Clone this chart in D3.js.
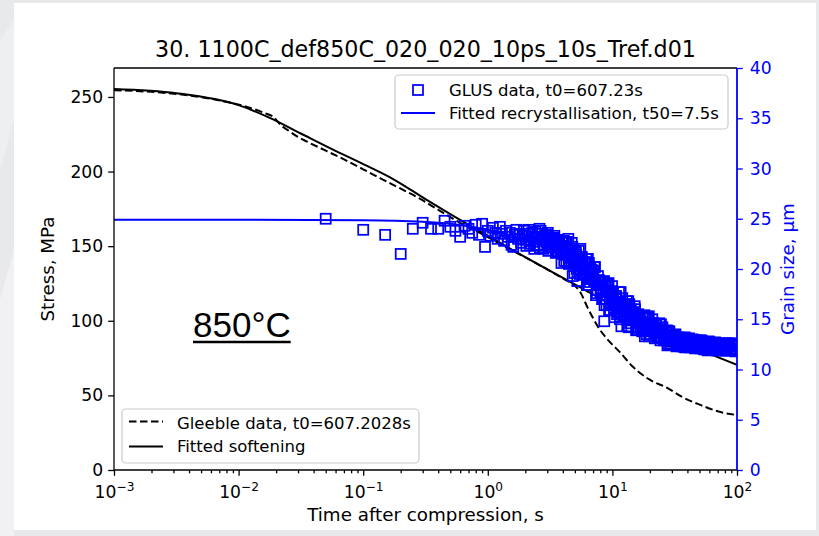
<!DOCTYPE html>
<html>
<head>
<meta charset="utf-8">
<script src="https://cdn.jsdelivr.net/npm/d3@7"></script>
<style>
  html, body { margin: 0; padding: 0; background: #e8e9eb; }
  svg { display: block; }
</style>
</head>
<body>
<svg id="chart" width="819" height="536"></svg>
<script>
// ---- chart text ----
const chartTitle = "30. 1100C_def850C_020_020_10ps_10s_Tref.d01";
const xLabel = "Time after compression, s";
const yLeftLabel = "Stress, MPa";
const yRightLabel = "Grain size, µm";
const tempLabel = "850°C";

// ---- ticks ----
const stressTicks = [0, 50, 100, 150, 200, 250];
const grainTicks = [0, 5, 10, 15, 20, 25, 30, 35, 40];
const timeTicks = [1e-3, 1e-2, 1e-1, 1, 10, 100];
const timeTickExponents = ["\u22123", "\u22122", "\u22121", "0", "1", "2"];

// ---- Gleeble stress relaxation (measured) ----
const gleebleTime = [0.001, 0.002, 0.004, 0.0079, 0.0126, 0.0158, 0.0191, 0.0219, 0.0251, 0.0302,
  0.0355, 0.0501, 0.0708, 0.1, 0.141, 0.2, 0.282, 0.398, 0.562, 0.794, 1.0, 1.585, 2.512, 3.981,
  4.786, 5.495, 6.31, 7.943, 10, 11.48, 14.45, 19.95, 27.54, 37.15, 50.12, 72.44, 100];
const gleebleStress = [254.5, 253.4, 251, 246.8, 242.5, 239.5, 236.5, 231, 227.5, 223,
  220, 214, 208, 201.5, 195, 188.5, 182, 174.5, 167, 160.5, 156, 147, 138, 128.5,
  124.5, 119.5, 109, 94, 84, 79, 69.5, 60.5, 55, 48.5, 43.8, 39, 36.8];

// ---- fitted softening curve ----
const softeningTime = [0.001, 0.00316, 0.01, 0.0178, 0.0316, 0.0562, 0.1, 0.178, 0.316, 0.562,
  1, 1.778, 3.162, 5.623, 10, 17.78, 31.62, 56.23, 100];
const softeningStress = [255.3, 252.5, 244.5, 236, 225.5, 215, 205, 194.5, 181.5, 169,
  157, 145, 133.5, 122, 110.5, 99.5, 89, 79, 70.5];

// ---- fitted recrystallisation curve (grain size) ----
const recrystTime = [0.001, 0.01, 0.1, 0.3, 0.5, 1, 2, 3, 4, 5, 6, 7.5, 9, 11, 14, 18, 25, 35, 50, 70, 100];
const recrystSize = [24.9, 24.9, 24.85, 24.7, 24.5, 23.9, 22.9, 22.0, 21.2, 20.4, 19.6, 18.6, 17.6,
  16.5, 15.3, 14.3, 13.4, 12.8, 12.45, 12.3, 12.25];

// ---- GLUS grain size measurements ----
const glusTime = [
  0.05, 0.10, 0.15, 0.20, 0.25, 0.30, 0.35, 0.40, 0.45, 0.50,
  0.55, 0.60, 0.65, 0.70, 0.75, 0.80, 0.85, 0.90, 0.95, 1.00,
  1.05, 1.10, 1.15, 1.20, 1.25, 1.30, 1.35, 1.40, 1.45, 1.50,
  1.55, 1.60, 1.65, 1.70, 1.75, 1.80, 1.85, 1.90, 1.95, 2.00,
  2.08, 2.16, 2.24, 2.32, 2.41, 2.5, 2.6, 2.7, 2.8, 2.9,
  3.0, 3.12, 3.24, 3.36, 3.48, 3.61, 3.75, 3.89, 4.04, 4.19,
  4.35, 4.51, 4.68, 4.86, 5.04, 5.23, 5.43, 5.64, 5.85, 6.07,
  6.3, 6.54, 6.79, 7.05, 7.31, 7.59, 7.88, 8.18, 8.49, 8.81,
  9.14, 9.49, 9.85, 10.2, 10.6, 11.0, 11.4, 11.9, 12.3, 12.8,
  13.3, 13.8, 14.3, 14.8, 15.4, 16.0, 16.6, 17.2, 17.9, 18.5,
  19.2, 20.0, 20.7, 21.5, 22.3, 23.2, 24.1, 25.0, 25.9, 26.9,
  27.9, 29.0, 30.1, 31.2, 32.4, 33.6, 34.9, 36.2, 37.6, 39.0,
  40.5, 42.0, 43.6, 45.2, 46.9, 48.7, 50.6, 52.5, 54.5, 56.5,
  58.7, 60.9, 63.2, 65.6, 68.0, 70.6, 73.3, 76.1, 79.0, 82.0,
  85.1, 88.3, 91.6, 95.1, 98.7, 100,
  3.9, 4.8, 8.6, 11.8,
  2.04, 2.12, 2.2, 2.28, 2.36, 2.45, 2.55, 2.65, 2.75, 2.85,
  2.95, 3.06, 3.18, 3.3, 3.42, 3.54, 3.68, 3.82, 3.96, 4.11,
  4.27, 4.43, 4.59, 4.77, 4.95, 5.13, 5.33, 5.53, 5.74, 5.96,
  6.18, 6.42, 6.66, 6.92, 7.18, 7.45, 7.73, 8.03, 8.33, 8.65,
  8.97, 9.31, 9.67, 10.0, 10.4, 10.8, 11.2, 11.65, 12.1, 12.55,
  13.05, 13.55, 14.05, 14.55, 15.1, 15.7, 16.3, 16.9, 17.55, 18.2,
  18.85, 19.6, 20.35, 21.1, 21.9, 22.75, 23.65, 24.55, 25.45, 26.4,
  27.4, 28.45, 29.55, 30.65, 31.8, 33.0, 34.25, 35.55, 36.9, 38.3,
  39.75, 41.25, 42.8, 44.4, 46.05, 47.8, 49.65, 51.55, 53.5, 55.5,
  57.6, 59.8, 62.05, 64.4, 66.8, 69.3, 71.95, 74.7, 77.55, 80.5,
  83.55, 86.7, 89.95, 93.35, 96.9, 99.4,
  2.52, 2.62, 2.73, 2.83, 2.93, 3.03, 3.15, 3.27, 3.39, 3.51,
  3.64, 3.78, 3.93, 4.08, 4.23, 4.39, 4.55, 4.72, 4.91, 5.09,
  5.28, 5.48, 5.69, 5.9, 6.13, 6.36, 6.6, 6.85, 7.12, 7.38,
  7.66, 7.95, 8.26, 8.57, 8.89, 9.22, 9.58, 9.94, 10.3, 10.7,
  11.1, 11.5, 12.0, 12.4, 12.9, 13.4, 13.9, 14.4, 14.9, 15.5,
  16.15, 16.75, 17.35, 18.05, 18.65, 19.4, 20.2, 20.9, 21.7, 22.5,
  23.4, 24.3, 25.2, 26.1, 27.15, 28.15, 29.25, 30.4, 31.5, 32.7,
  33.9, 35.2, 36.5, 37.95, 39.35, 40.9, 42.4, 44.0, 45.6, 47.35,
  49.15, 51.05, 53.0, 55.0, 57.0, 59.25, 61.45, 63.8, 66.2, 68.65,
  71.25, 74.0, 76.8, 79.75, 82.75, 85.9, 89.1, 92.45, 96.0, 99.6,
  4.15, 4.31, 4.47, 4.64, 4.81, 5.0, 5.18, 5.38, 5.58, 5.8,
  6.01, 6.24, 6.48, 6.72, 6.98, 7.25, 7.51, 7.8, 8.1, 8.41,
  8.73, 9.06, 9.4, 9.76, 10.13, 10.49, 10.9, 11.31, 11.72, 12.23,
  12.64, 13.16, 13.67, 14.19, 14.7, 15.21, 15.83, 16.45, 17.06, 17.68,
  18.4, 19.02, 19.74, 20.56, 21.28, 22.1, 22.92, 23.85, 24.77, 25.7,
  26.63, 27.65, 28.68, 29.81, 30.94, 32.07, 33.31, 34.54, 35.88, 37.21,
  38.65, 40.09, 41.63, 43.18, 44.82, 46.47, 48.21, 50.06, 52.02, 53.97,
  56.03, 58.08, 60.34
];
const glusSize = [
  25.0, 23.9, 23.4, 21.5, 24.0, 24.6, 24.0, 24.0, 24.8, 24.2,
  23.8, 23.2, 24.3, 24.0, 23.6, 24.4, 23.4, 24.5, 22.2, 23.8,
  23.3, 24.1, 23.6, 23.0, 24.2, 23.5, 22.8, 23.8, 23.2, 23.6,
  22.4, 22.2, 23.4, 23.9, 23.0, 23.5, 22.6, 23.3, 23.8, 22.9,
  23.5, 22.5, 23.2, 22.7, 23.7, 22.3, 24.0, 23.2, 22.0, 23.3,
  22.6, 23.0, 22.2, 23.1, 22.4, 21.7, 22.7, 22.3, 21.6, 22.7,
  22.2, 21.1, 21.6, 20.9, 21.7, 18.8, 20.6, 20.8, 19.4, 20.5,
  19.6, 19.9, 19.0, 19.8, 18.8, 17.9, 18.7, 18.1, 17.4, 18.3,
  17.8, 16.6, 17.1, 16.5, 17.3, 15.8, 16.3, 16.5, 15.2, 16.3,
  15.4, 15.7, 14.9, 15.7, 14.9, 14.2, 15.1, 14.7, 14.2, 15.1,
  14.6, 13.8, 14.2, 13.8, 14.5, 13.3, 13.7, 13.9, 12.9, 13.7,
  13.1, 13.3, 12.8, 13.4, 12.9, 12.4, 13.0, 12.8, 12.5, 13.1,
  12.9, 12.4, 12.7, 12.4, 12.9, 12.2, 12.6, 12.6, 12.0, 12.7,
  12.3, 12.5, 12.1, 12.6, 12.2, 11.9, 12.4, 12.3, 12.0, 12.6,
  12.4, 11.9, 12.3, 12.0, 12.5, 11.9,
  20.6, 19.3, 14.8, 14.3,
  22.3, 23.9, 22.8, 23.6, 22.0, 23.2, 22.4, 23.8, 22.9, 22.4,
  23.4, 21.8, 23.0, 22.4, 23.3, 21.8, 22.5, 21.9, 22.6, 20.8,
  20.8, 23.0, 21.2, 22.2, 19.6, 21.4, 20.0, 22.0, 20.5, 19.5,
  21.0, 18.4, 20.1, 19.2, 20.2, 17.9, 18.8, 17.7, 18.7, 16.4,
  16.4, 18.6, 16.7, 17.8, 15.2, 17.0, 15.7, 17.7, 16.3, 15.3,
  16.8, 14.2, 16.0, 15.1, 16.3, 14.0, 15.1, 14.3, 15.3, 13.3,
  13.5, 15.3, 13.9, 14.6, 13.1, 14.1, 13.3, 14.5, 13.6, 13.0,
  13.9, 12.5, 13.4, 12.9, 13.4, 12.5, 12.9, 12.5, 13.0, 12.2,
  12.3, 13.1, 12.5, 12.9, 12.1, 12.7, 12.3, 12.9, 12.5, 12.2,
  12.7, 12.0, 12.5, 12.3, 12.7, 12.0, 12.4, 12.1, 12.5, 11.9,
  11.9, 12.6, 12.1, 12.5, 11.8, 12.3,
  23.1, 22.1, 23.5, 22.4, 22.8, 23.6, 22.2, 23.0, 22.3, 21.6,
  22.9, 22.3, 21.5, 22.8, 21.5, 22.1, 20.6, 22.6, 20.6, 21.6,
  21.0, 19.5, 21.2, 19.7, 20.0, 21.0, 18.7, 19.9, 18.8, 17.4,
  19.3, 18.4, 17.0, 18.8, 17.0, 17.7, 15.9, 18.3, 16.1, 17.3,
  16.7, 15.0, 17.1, 15.4, 15.8, 16.8, 14.6, 15.7, 14.9, 13.9,
  15.5, 14.8, 13.8, 15.4, 14.1, 14.6, 13.5, 15.0, 13.6, 14.4,
  14.0, 12.9, 14.2, 13.1, 13.4, 13.8, 12.6, 13.3, 12.8, 12.3,
  13.2, 12.8, 12.3, 13.2, 12.5, 12.8, 12.3, 13.0, 12.4, 12.8,
  12.6, 12.1, 12.8, 12.2, 12.4, 12.8, 12.1, 12.5, 12.2, 11.9,
  12.6, 12.3, 11.9, 12.6, 12.1, 12.4, 11.9, 12.6, 12.0, 12.4,
  21.4, 22.7, 20.5, 21.8, 22.0, 20.8, 20.0, 21.8, 19.9, 20.3,
  20.7, 18.4, 20.6, 19.0, 19.5, 20.2, 17.6, 18.9, 17.9, 17.0,
  17.0, 18.5, 15.9, 17.4, 17.6, 16.4, 15.5, 17.7, 15.5, 16.1,
  16.5, 14.3, 16.5, 15.0, 15.4, 16.0, 14.0, 15.2, 14.6, 13.9,
  14.0, 15.2, 13.3, 14.4, 14.6, 13.8, 13.2, 14.6, 13.2, 13.6,
  13.8, 12.4, 13.8, 12.8, 13.1, 13.5, 12.4, 13.0, 12.7, 12.3,
  12.4, 13.0, 12.2, 12.7, 12.9, 12.5, 12.2, 12.9, 12.2, 12.5,
  12.6, 11.9, 12.7
];

// ---- legend entries ----
const legendGrain = ["GLUS data, t0=607.23s", "Fitted recrystallisation, t50=7.5s"];
const legendStress = ["Gleeble data, t0=607.2028s", "Fitted softening"];

// ---- layout ----
const W = 819, H = 536;
const plot = { left: 114, right: 737, top: 68, bottom: 470 };
const FONT = "DejaVu Sans, Verdana, sans-serif";
const BLUE = "#0000ff";
const FS_TICK = 17.2;
const FS_LABEL = 18.3;
const FS_LEGEND = 16.5;

const svg = d3.select("#chart");

// slide backdrop and white panel
svg.append("rect").attr("width", W).attr("height", H).attr("fill", "#e8e9eb");
svg.append("path").attr("d", "M0,300 L14,250 L14,536 L0,536 Z").attr("fill", "#f1f1f3");
svg.append("path").attr("d", "M0,40 L14,20 L14,120 L0,170 Z").attr("fill", "#eeeff1");
svg.append("rect").attr("x", 14).attr("y", 3).attr("width", 802).attr("height", 527).attr("fill", "#ffffff");

// scales
const x = d3.scaleLog().domain([1e-3, 100]).range([plot.left, plot.right]);
const yS = d3.scaleLinear().domain([0, 269.4]).range([plot.bottom, plot.top]);
const yG = d3.scaleLinear().domain([0, 40]).range([plot.bottom, plot.top]);

svg.append("defs").append("clipPath").attr("id", "plotClip")
  .append("rect").attr("x", plot.left).attr("y", plot.top)
  .attr("width", plot.right - plot.left).attr("height", plot.bottom - plot.top);

// ---- stress curves ----
const stressLine = d3.line().x(d => x(d[0])).y(d => yS(d[1])).curve(d3.curveMonotoneX);
const gData = svg.append("g").attr("clip-path", "url(#plotClip)");
gData.append("path")
  .datum(gleebleTime.map((t, i) => [t, gleebleStress[i]]))
  .attr("d", stressLine).attr("fill", "none").attr("stroke", "#000")
  .attr("stroke-width", 2).attr("stroke-dasharray", "7.5,3.5");
gData.append("path")
  .datum(softeningTime.map((t, i) => [t, softeningStress[i]]))
  .attr("d", stressLine).attr("fill", "none").attr("stroke", "#000").attr("stroke-width", 2);

// ---- grain size ----
const grainLine = d3.line().x(d => x(d[0])).y(d => yG(d[1])).curve(d3.curveMonotoneX);
gData.append("path")
  .datum(recrystTime.map((t, i) => [t, recrystSize[i]]))
  .attr("d", grainLine).attr("fill", "none").attr("stroke", BLUE).attr("stroke-width", 2);

const SQ = 10;
gData.append("g").selectAll("rect")
  .data(glusTime.map((t, i) => [t, glusSize[i]]))
  .join("rect")
  .attr("x", d => x(d[0]) - SQ / 2).attr("y", d => yG(d[1]) - SQ / 2)
  .attr("width", SQ).attr("height", SQ)
  .attr("fill", "none").attr("stroke", BLUE).attr("stroke-width", 1.75);

// ---- axes ----
function styleAxis(g, color) {
  g.select(".domain").remove();
  g.selectAll(".tick line").attr("stroke", color).attr("stroke-width", 1.3);
  g.selectAll(".tick text").attr("fill", color).attr("font-size", FS_TICK).attr("font-family", FONT);
}

svg.append("g").attr("transform", `translate(${plot.left},0)`)
  .call(d3.axisLeft(yS).tickValues(stressTicks).tickSize(5.8).tickPadding(5).tickSizeOuter(0))
  .call(g => styleAxis(g, "#000"));

svg.append("g").attr("transform", `translate(${plot.right},0)`)
  .call(d3.axisRight(yG).tickValues(grainTicks).tickSize(5.8).tickPadding(7).tickSizeOuter(0))
  .call(g => styleAxis(g, BLUE));

// minor log ticks
const minorTicks = [];
for (let e = -3; e < 2; e++) for (let m = 2; m <= 9; m++) minorTicks.push(m * Math.pow(10, e));
svg.append("g").attr("transform", `translate(0,${plot.bottom})`)
  .call(d3.axisBottom(x).tickValues(minorTicks).tickSize(3.3).tickFormat(() => "").tickSizeOuter(0))
  .call(g => styleAxis(g, "#000"));

const xAxis = svg.append("g").attr("transform", `translate(0,${plot.bottom})`)
  .call(d3.axisBottom(x).tickValues(timeTicks).tickSize(5.8).tickFormat(() => "").tickSizeOuter(0))
  .call(g => styleAxis(g, "#000"));
xAxis.selectAll(".tick text").remove();
xAxis.selectAll(".tick").each(function (d, i) {
  const t = d3.select(this).append("text")
    .attr("x", 0).attr("y", 28).attr("text-anchor", "middle")
    .attr("font-family", FONT).attr("font-size", FS_TICK).attr("fill", "#000");
  t.append("tspan").text("10");
  t.append("tspan").attr("dy", -7.5).attr("font-size", 12.2).text(timeTickExponents[i]);
});

// spines
const spines = svg.append("g").attr("fill", "none").attr("stroke-width", 1.3);
spines.append("line").attr("x1", plot.left).attr("x2", plot.left).attr("y1", plot.top).attr("y2", plot.bottom).attr("stroke", "#000");
spines.append("line").attr("x1", plot.left).attr("x2", plot.right).attr("y1", plot.bottom).attr("y2", plot.bottom).attr("stroke", "#000");
spines.append("line").attr("x1", plot.left).attr("x2", plot.right).attr("y1", plot.top).attr("y2", plot.top).attr("stroke", "#000");
spines.append("line").attr("x1", plot.right).attr("x2", plot.right).attr("y1", plot.top).attr("y2", plot.bottom).attr("stroke", BLUE).attr("stroke-width", 1.8);

// ---- titles and axis labels ----
svg.append("text").attr("x", (plot.left + plot.right) / 2).attr("y", 56.5)
  .attr("text-anchor", "middle").attr("font-family", FONT).attr("font-size", 22.2).attr("fill", "#000")
  .text(chartTitle);
svg.append("text").attr("x", (plot.left + plot.right) / 2).attr("y", 521)
  .attr("text-anchor", "middle").attr("font-family", FONT).attr("font-size", FS_LABEL).attr("fill", "#000")
  .text(xLabel);
svg.append("text").attr("transform", `translate(54,${(plot.top + plot.bottom) / 2}) rotate(-90)`)
  .attr("text-anchor", "middle").attr("font-family", FONT).attr("font-size", FS_LABEL).attr("fill", "#000")
  .text(yLeftLabel);
svg.append("text").attr("transform", `translate(794,${(plot.top + plot.bottom) / 2}) rotate(-90)`)
  .attr("text-anchor", "middle").attr("font-family", FONT).attr("font-size", FS_LABEL).attr("fill", BLUE)
  .text(yRightLabel);

// temperature annotation
const temp = svg.append("text").attr("x", 193).attr("y", 337)
  .attr("font-family", "Liberation Sans, Arial, sans-serif").attr("font-size", 35).attr("fill", "#000")
  .text(tempLabel);
const tb = temp.node().getBBox();
svg.append("line").attr("x1", tb.x).attr("x2", tb.x + tb.width).attr("y1", 342).attr("y2", 342)
  .attr("stroke", "#000").attr("stroke-width", 2.5);

// ---- legends ----
function legendBox(x0, y0, w, h) {
  svg.append("rect").attr("x", x0).attr("y", y0).attr("width", w).attr("height", h)
    .attr("rx", 4).attr("fill", "#fff").attr("fill-opacity", 0.8)
    .attr("stroke", "#cccccc").attr("stroke-width", 1.2);
}

// grain legend (upper right)
legendBox(395, 75, 333, 54);
svg.append("rect").attr("x", 418 - SQ / 2).attr("y", 90 - SQ / 2).attr("width", SQ).attr("height", SQ)
  .attr("fill", "none").attr("stroke", BLUE).attr("stroke-width", 1.75);
svg.append("line").attr("x1", 401).attr("x2", 435).attr("y1", 113).attr("y2", 113)
  .attr("stroke", BLUE).attr("stroke-width", 2);
legendGrain.forEach((s, i) => {
  svg.append("text").attr("x", 449).attr("y", 95.5 + i * 23)
    .attr("font-family", FONT).attr("font-size", FS_LEGEND).attr("fill", "#000").text(s);
});

// stress legend (lower left)
legendBox(122, 409, 297, 54);
svg.append("line").attr("x1", 129).attr("x2", 163).attr("y1", 421.5).attr("y2", 421.5)
  .attr("stroke", "#000").attr("stroke-width", 2).attr("stroke-dasharray", "7.5,3.5");
svg.append("line").attr("x1", 129).attr("x2", 163).attr("y1", 446.5).attr("y2", 446.5)
  .attr("stroke", "#000").attr("stroke-width", 2);
legendStress.forEach((s, i) => {
  svg.append("text").attr("x", 177).attr("y", 428.5 + i * 23.5)
    .attr("font-family", FONT).attr("font-size", FS_LEGEND).attr("fill", "#000").text(s);
});
</script>
</body>
</html>
